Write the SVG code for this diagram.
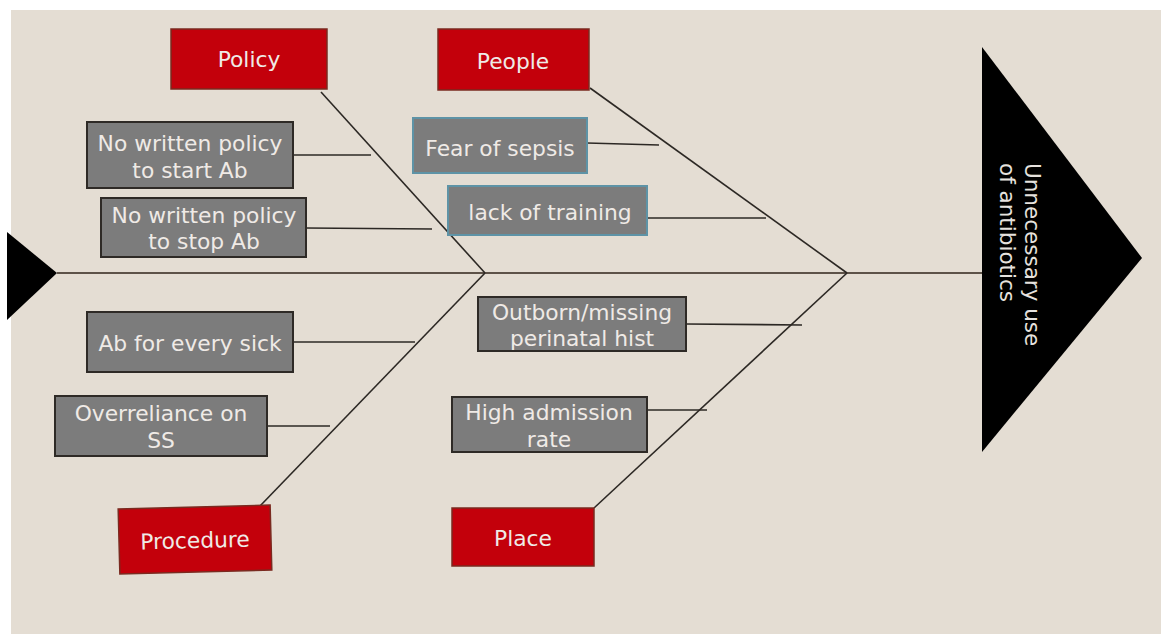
<svg xmlns="http://www.w3.org/2000/svg" width="1161" height="634" viewBox="0 0 1161 634">
<style>
.t{font-family:"DejaVu Sans","Liberation Sans",sans-serif;font-size:21.8px;fill:#efeae6;text-anchor:middle}
.h{font-family:"DejaVu Sans","Liberation Sans",sans-serif;font-size:21.5px;fill:#e6e2de}
.red{fill:#c3000b;stroke:#7a2a20;stroke-width:1.5}
.gray{fill:#7c7c7c;stroke:#2e2a26;stroke-width:2}
.blue{fill:#7c7c7c;stroke:#5e93a6;stroke-width:2}
.ln{stroke:#2c2824;stroke-width:1.6;fill:none}
</style>
<rect x="0" y="0" width="1161" height="634" fill="#ffffff"/>
<rect x="11" y="10" width="1150" height="624" fill="#e4ddd3"/>
<g id="connectors">
<line class="ln" x1="57" y1="273" x2="982" y2="273" style="stroke:#5d5248;stroke-width:2"/>
<line class="ln" x1="321" y1="92" x2="485" y2="273"/>
<line class="ln" x1="260" y1="506" x2="485" y2="273"/>
<line class="ln" x1="590" y1="88" x2="847" y2="273"/>
<line class="ln" x1="594" y1="508" x2="847" y2="273"/>
<line class="ln" x1="293" y1="155" x2="371" y2="155"/>
<line class="ln" x1="306" y1="228" x2="432" y2="229"/>
<line class="ln" x1="293" y1="342" x2="415" y2="342"/>
<line class="ln" x1="267" y1="426" x2="330" y2="426"/>
<line class="ln" x1="587" y1="143" x2="659" y2="145"/>
<line class="ln" x1="647" y1="218" x2="766" y2="218"/>
<line class="ln" x1="686" y1="324" x2="802" y2="325"/>
<line class="ln" x1="647" y1="410" x2="707" y2="410"/>
</g>
<g id="tail"><polygon points="7,232 57,273 7,320" fill="#000"/></g>
<g id="head">
<polygon points="982,47 1142,258 982,452" fill="#000"/>
<text class="h" transform="translate(1025,163) rotate(90)">Unnecessary use</text>
<text class="h" transform="translate(1000,163) rotate(90)">of antibiotics</text>
</g>
<g id="policy"><rect class="red" x="171" y="29" width="156" height="60"/><text class="t" x="249" y="67">Policy</text></g>
<g id="people"><rect class="red" x="438" y="29" width="151" height="61"/><text class="t" x="513" y="69">People</text></g>
<g id="procedure" transform="rotate(-1.5 195 540)"><rect class="red" x="119" y="507" width="152" height="65"/><text class="t" x="195" y="548">Procedure</text></g>
<g id="place"><rect class="red" x="452" y="508" width="142" height="58"/><text class="t" x="523" y="546">Place</text></g>
<g id="start-ab"><rect class="gray" x="87" y="122" width="206" height="66"/><text class="t" x="190" y="151">No written policy</text><text class="t" x="190" y="178">to start Ab</text></g>
<g id="stop-ab"><rect class="gray" x="101" y="198" width="205" height="59"/><text class="t" x="204" y="223">No written policy</text><text class="t" x="204" y="249">to stop Ab</text></g>
<g id="every-sick"><rect class="gray" x="87" y="312" width="206" height="60"/><text class="t" x="190" y="351">Ab for every sick</text></g>
<g id="overreliance"><rect class="gray" x="55" y="396" width="212" height="60"/><text class="t" x="161" y="421">Overreliance on</text><text class="t" x="161" y="448">SS</text></g>
<g id="fear"><rect class="blue" x="413" y="118" width="174" height="55"/><text class="t" x="500" y="156">Fear of sepsis</text></g>
<g id="training"><rect class="blue" x="448" y="186" width="199" height="49"/><text class="t" x="550" y="220">lack of training</text></g>
<g id="outborn"><rect class="gray" x="478" y="297" width="208" height="54"/><text class="t" x="582" y="320">Outborn/missing</text><text class="t" x="582" y="346">perinatal hist</text></g>
<g id="admission"><rect class="gray" x="452" y="397" width="195" height="55"/><text class="t" x="549" y="420">High admission</text><text class="t" x="549" y="447">rate</text></g>
</svg>
